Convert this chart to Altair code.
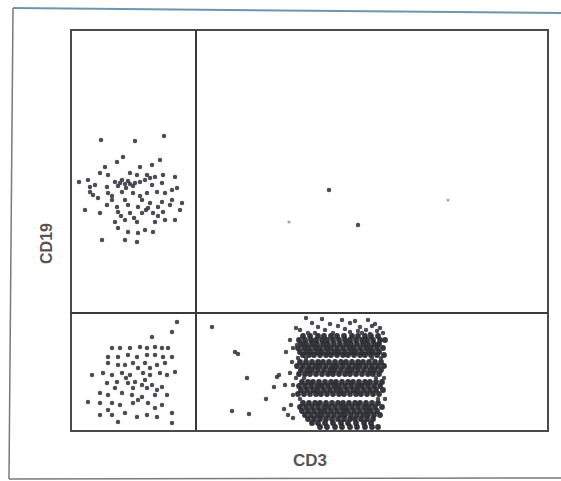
import altair as alt
import pandas as pd

# Event positions (CD3 on x, CD19 on y),
# expressed in the plot's own channel units (x: 71..548, y: 431 bottom .. 30 top)
cd19_pos = [(101,140),(135,141),(164,136),(123,157),(117,162),(105,167),(140,167),(152,165),(160,160),
    (100,173),(108,175),(130,173),(137,175),(147,175),(155,177),(163,175),(175,177),
    (115,182),(120,183),(125,184),(130,184),(135,183),(140,182),(128,181),(133,186),(145,180),(150,178),(122,180),
    (79,182),(88,180),(90,187),(95,185),(107,187),(152,185),(162,183),(177,188),
    (90,192),(93,195),(108,193),(122,192),(133,193),(147,193),(157,192),(165,193),(172,190),
    (98,198),(112,200),(125,200),(142,200),(150,203),(162,202),(172,200),
    (107,205),(117,207),(128,205),(138,207),(148,208),(158,207),(170,205),(182,203),
    (85,210),(100,213),(118,212),(130,213),(142,213),(153,213),(163,212),(180,210),
    (115,222),(125,220),(137,222),(155,222),(165,220),(175,220),
    (118,228),(128,232),(138,233),(145,230),(153,232),
    (102,240),(125,240),(137,242),
    (118,186),(126,188),(112,196),(140,196),(146,210),(134,218),(121,216),(158,216)]

double_neg = [(177,322),(172,332),(152,337),(168,348),
    (112,348),(120,348),(130,348),(140,347),(147,348),(155,347),(162,348),
    (108,357),(118,357),(128,355),(137,357),(147,355),(155,355),(163,357),(172,357),
    (108,363),(118,365),(125,365),(133,363),(145,363),(157,365),(165,363),
    (92,375),(103,373),(112,375),(122,373),(130,375),(143,373),(150,375),(160,373),(167,375),(175,372),
    (107,383),(117,382),(128,383),(135,382),(142,385),(152,385),(162,387),(115,388),(133,388),(147,388),(157,390),
    (100,393),(108,395),(122,393),(132,395),(142,397),(155,395),(167,395),
    (88,402),(100,403),(112,403),(120,405),(133,403),(148,403),(162,405),
    (100,415),(112,415),(125,413),(137,417),(147,415),(157,417),(172,413),
    (118,422),(172,423),(138,368),(150,368),(126,378),(145,380),(138,400),(155,408),(108,410)]

double_pos = [(329,190),(358,225)]
double_pos_faint = [(289,222),(448,200)]

cd3_sparse = [(212,327),(235,352),(238,354),(247,378),(277,377),(279,375),(274,387),(266,399),
    (232,411),(249,414),(284,409),(288,415),(293,348),(290,373),(293,385),(293,395),(297,345),
    (296,328),(290,340),(286,352),(292,362),(285,385),(291,405),(293,418),
    (306,318),(322,319),(342,320),(355,321),(368,320),(312,323),(330,324),(350,323),(375,324),
    (318,327),(338,326),(360,327),(372,326),(380,328),(300,330),(325,330),(345,329),(358,331),
    (366,330),(377,331),(308,333),(315,333),(333,333),(350,332),(362,333),(370,334),(383,333),
    (298,358),(306,358),(372,358),(381,358),(296,378),(304,378),(376,378),(384,378),
    (300,399),(378,399),(385,399)]

cd3_dense_rows = {
    336: [303,310,318,324,331,337,344,352,358,365,371,378],
    340: [299,305,311,316,322,327,333,339,345,350,356,362,367,373,380,385],
    344: [301,306,312,317,323,328,334,340,346,351,357,363,368,374,379],
    348: [298,304,309,315,320,326,331,337,343,349,354,360,366,371,377,383],
    352: [300,306,311,317,322,328,334,339,345,351,356,362,368,373,379],
    355: [303,309,314,320,326,331,337,343,348,354,360,365,371,377,384],
    362: [300,306,312,318,323,329,335,341,346,352,358,363,369,375,381],
    366: [297,303,309,315,320,326,332,337,343,349,355,360,366,372,378,384],
    370: [301,307,312,318,324,330,335,341,347,352,358,364,370,375,381],
    374: [299,305,310,316,322,328,333,339,345,350,356,362,368,373,379],
    382: [302,308,313,319,325,331,336,342,348,353,359,365,370,376,382],
    386: [299,305,311,317,322,328,334,339,345,351,357,362,368,374,380],
    390: [301,307,313,318,324,330,336,341,347,353,358,364,370,376,383],
    394: [298,304,310,316,321,327,333,339,344,350,356,361,367,373,379],
    403: [303,309,315,320,326,332,338,343,349,355,360,366,372,378],
    407: [300,306,312,318,324,329,335,341,346,352,358,364,369,375,382],
    411: [302,308,314,320,325,331,337,343,348,354,360,366,371,377],
    415: [305,311,317,322,328,334,340,345,351,357,363,368,374,380],
    419: [308,314,320,326,332,338,344,350,355,361,367,373],
    423: [312,318,325,333,341,348,356,364,371],
    427: [320,327,335,342,350,357,365,372,378],
}

gate_cd3 = [196]
gate_cd19 = [313]

def frame(pairs):
    return pd.DataFrame({"cd3": [p[0] for p in pairs], "cd19": [p[1] for p in pairs]})

sparse_df = pd.concat([frame(cd19_pos), frame(double_neg), frame(double_pos), frame(cd3_sparse)])
faint_df = frame(double_pos_faint)
dense_df = pd.DataFrame([(x, y) for y, xs in cd3_dense_rows.items() for x in xs], columns=["cd3", "cd19"])

xs = alt.Scale(domain=[71, 548], nice=False, zero=False)
ys = alt.Scale(domain=[431, 30], nice=False, zero=False)

xaxis = alt.Axis(title="CD3", domain=False, ticks=False, labels=False, grid=False,
                 titleFontSize=17, titleColor="#555555", titleFont="Liberation Sans",
                 titleFontWeight="bold", titlePadding=21)
yaxis = alt.Axis(title="CD19", domain=False, ticks=False, labels=False, grid=False,
                 titleFontSize=16, titleColor="#555555", titleFont="Liberation Sans",
                 titleFontWeight="bold", titleAngle=270, titleX=-25, titleY=213,
                 titleAlign="center", titleBaseline="middle")

pts = alt.Chart(sparse_df).mark_circle(size=20, color="#3a3a46", opacity=0.9).encode(
    x=alt.X("cd3:Q", scale=xs, axis=xaxis),
    y=alt.Y("cd19:Q", scale=ys, axis=yaxis),
)
faint = alt.Chart(faint_df).mark_circle(size=10, color="#9a9aa4", opacity=0.9).encode(
    x=alt.X("cd3:Q", scale=xs), y=alt.Y("cd19:Q", scale=ys))
dense = alt.Chart(dense_df).mark_circle(size=34, color="#2a2a32", opacity=0.95).encode(
    x=alt.X("cd3:Q", scale=xs), y=alt.Y("cd19:Q", scale=ys))

vgate = alt.Chart(pd.DataFrame({"cd3": gate_cd3})).mark_rule(color="#3a3a3a", strokeWidth=2).encode(
    x=alt.X("cd3:Q", scale=xs))
hgate = alt.Chart(pd.DataFrame({"cd19": gate_cd19})).mark_rule(color="#3a3a3a", strokeWidth=2).encode(
    y=alt.Y("cd19:Q", scale=ys))

top_line = alt.Chart(pd.DataFrame({"k": [0]})).mark_rule(color="#6f95b0", strokeWidth=2).encode(
    x=alt.value(-58), x2=alt.value(492), y=alt.value(-22), y2=alt.value(-17))
left_line = alt.Chart(pd.DataFrame({"k": [0]})).mark_rule(color="#7a7a7a", strokeWidth=1.5).encode(
    x=alt.value(-58), x2=alt.value(-62), y=alt.value(-22), y2=alt.value(449))
bottom_line = alt.Chart(pd.DataFrame({"k": [0]})).mark_rule(color="#7a7a7a", strokeWidth=1.5).encode(
    x=alt.value(-62), x2=alt.value(492), y=alt.value(449), y2=alt.value(448))

chart = alt.layer(dense, pts, faint, vgate, hgate, top_line, left_line, bottom_line).properties(
    width=477, height=401,
    padding={"left": 71, "top": 30, "right": 13, "bottom": 50},
    autosize=alt.AutoSizeParams(type="none"),
    background="#ffffff",
).configure_view(stroke="#4a4a4a", strokeWidth=2)

chart.save("out.html", embed_options={"renderer": "svg", "actions": False})
